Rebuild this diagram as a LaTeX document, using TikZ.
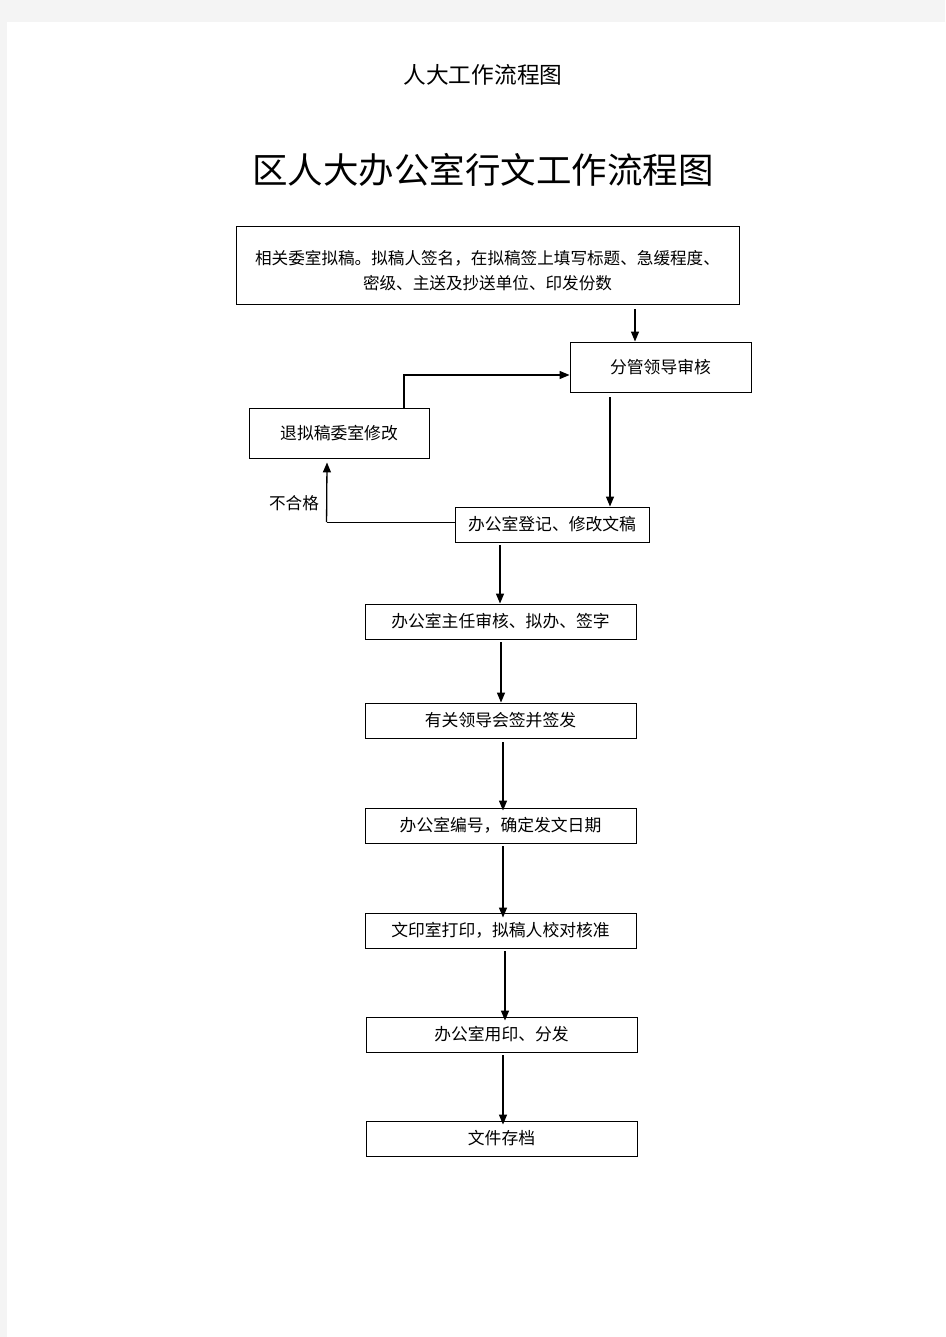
\documentclass[tikz,border=0pt]{standalone}
\usepackage{fontspec}
\newfontfamily\cjk{Noto Sans CJK SC}
\usetikzlibrary{arrows.meta}
\definecolor{pagegray}{HTML}{F4F4F4}
\tikzset{
  box/.style={draw=black, line width=0.9pt, inner sep=0pt, font=\cjk\fontsize{16.8}{18}\selectfont},
  arr/.style={line width=1.3pt, -{Triangle[length=10pt,width=8pt]}},
  plain/.style={line width=0.9pt},
  txt/.style={inner sep=0pt, font=\cjk\fontsize{16.6}{25}\selectfont, align=center}
}
\begin{document}
\begin{tikzpicture}[x=1pt,y=-1pt]
\fill[pagegray] (0,0) rectangle (945,1337);
\fill[white] (7,22) rectangle (945,1337);
\useasboundingbox (0,0) rectangle (945,1337);

\node[txt, font=\cjk\fontsize{22.7}{25}\selectfont] (hdr) at (483,75) {人大工作流程图};
\node[txt, font=\cjk\fontsize{35.5}{40}\selectfont] (ttl) at (483,170) {区人大办公室行文工作流程图};

\node[box, minimum width=503pt, minimum height=78pt] (b1) at (487.5,265) {};
\node[txt] (b1t) at (487.5,271) {相关委室拟稿。拟稿人签名，在拟稿签上填写标题、急缓程度、\\密级、主送及抄送单位、印发份数};
\node[box, minimum width=181pt, minimum height=50pt] (b2) at (660.5,367) {分管领导审核};
\node[box, minimum width=180pt, minimum height=50pt] (b3) at (339,433) {退拟稿委室修改};
\node[box, minimum width=194pt, minimum height=35pt] (b4) at (552,524.5) {办公室登记、修改文稿};
\node[box, minimum width=271pt, minimum height=35pt] (b5) at (500.5,621.5) {办公室主任审核、拟办、签字};
\node[box, minimum width=271pt, minimum height=35pt] (b6) at (500.5,720.5) {有关领导会签并签发};
\node[box, minimum width=271pt, minimum height=35pt] (b7) at (500.5,825.5) {办公室编号，确定发文日期};
\node[box, minimum width=271pt, minimum height=35pt] (b8) at (500.5,930.5) {文印室打印，拟稿人校对核准};
\node[box, minimum width=271pt, minimum height=35pt] (b9) at (501.5,1034.5) {办公室用印、分发};
\node[box, minimum width=271pt, minimum height=35pt] (b10) at (501.5,1138.5) {文件存档};

\node[txt] (lbl) at (294,503) {不合格};

\draw[arr] ([xshift=147.5pt,yshift=-5pt]b1.south) -- ([xshift=-25.5pt]b2.north);
\draw[arr] ([xshift=65pt]b3.north) |- ([yshift=-8pt]b2.west);
\draw[arr] ([xshift=-50.5pt,yshift=-5pt]b2.south) -- ([xshift=58pt]b4.north);
\draw[plain] ([yshift=2.5pt]b4.west) -- ++(-128,0) coordinate (c1);
\draw[arr] (c1) -- ([xshift=-12pt,yshift=-4pt]b3.south);
\draw[arr] ([xshift=-52pt,yshift=-3pt]b4.south) -- ([xshift=-0.5pt]b5.north);
\draw[arr] ([xshift=0.5pt,yshift=-3pt]b5.south) -- ([xshift=0.5pt]b6.north);
\draw[arr] ([xshift=2.5pt,yshift=-4pt]b6.south) -- ([xshift=2.5pt,yshift=-3pt]b7.north);
\draw[arr] ([xshift=2.5pt,yshift=-3pt]b7.south) -- ([xshift=2.5pt,yshift=-5pt]b8.north);
\draw[arr] ([xshift=4.5pt,yshift=-3pt]b8.south) -- ([xshift=3.5pt,yshift=-4pt]b9.north);
\draw[arr] ([xshift=1.5pt,yshift=-3pt]b9.south) -- ([xshift=1.5pt,yshift=-4pt]b10.north);
\end{tikzpicture}
\end{document}
